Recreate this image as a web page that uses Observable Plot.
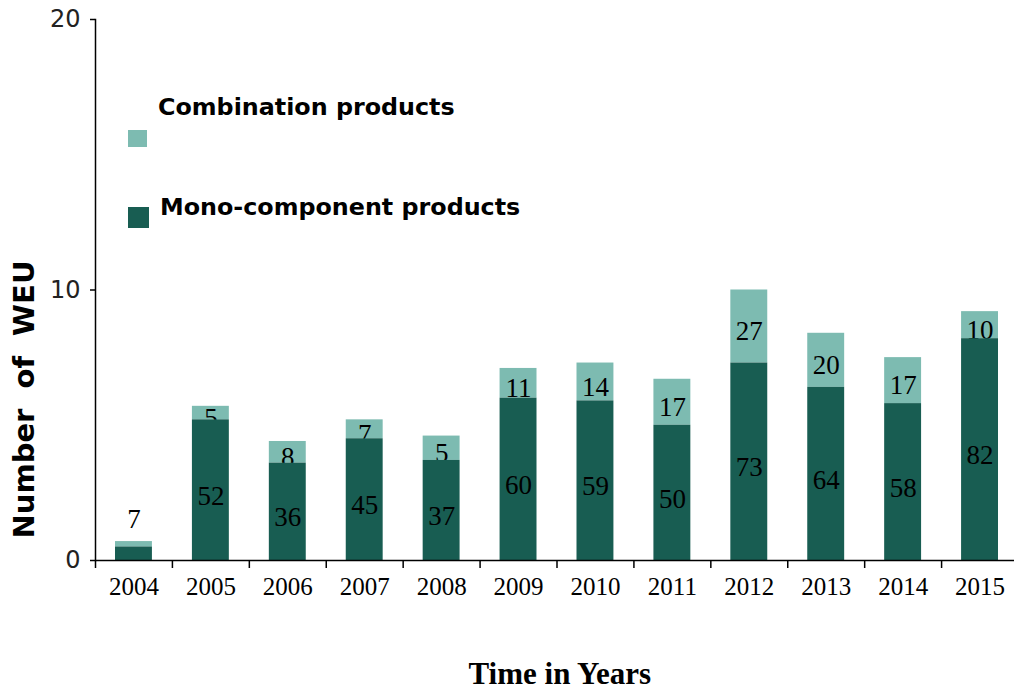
<!DOCTYPE html>
<html>
<head>
<meta charset="utf-8">
<script src="https://cdn.jsdelivr.net/npm/d3@7"></script>
<script src="https://cdn.jsdelivr.net/npm/@observablehq/plot@0.6"></script>
<style>
  body { margin: 0; background: #fff; }
  #wrap { position: relative; width: 1014px; height: 691px; overflow: hidden; }
  .legtext { position: absolute; font-family: "DejaVu Sans", sans-serif; font-weight: bold; font-size: 23.8px; color: #000; white-space: nowrap; line-height: 1; }
  .sw { position: absolute; }
  #ytitle { position: absolute; font-family: "DejaVu Sans", sans-serif; font-weight: bold; font-size: 29px; word-spacing: 10px; white-space: nowrap; line-height: 1; transform-origin: center center; }
  #xtitle { position: absolute; font-family: "Liberation Serif", "Times New Roman", serif; font-weight: bold; font-size: 31px; white-space: nowrap; line-height: 1; }
</style>
</head>
<body>
<div id="wrap"></div>
<script>
const years = ["2004","2005","2006","2007","2008","2009","2010","2011","2012","2013","2014","2015"];
// segment heights (in units of 1/10 of the axis)
const monoHeights  = [5, 52, 36, 45, 37, 60, 59, 50, 73, 64, 58, 82];
const comboHeights = [2, 5, 8, 7, 9, 11, 14, 17, 27, 20, 17, 10];
// printed labels
const monoLabels  = ["", "52", "36", "45", "37", "60", "59", "50", "73", "64", "58", "82"];
const comboLabels = ["7", "5", "8", "7", "5", "11", "14", "17", "27", "20", "17", "10"];
const yTicks = [0, 10, 20];
const seriesNames = ["Combination products", "Mono-component products"];
const colors = {combo: "#7dbbb1", mono: "#185d52"};

const unit = 10;
const mono = years.map((yr, i) => ({year: yr, y1: 0, y2: monoHeights[i] / unit, mid: monoHeights[i] / (2 * unit), label: monoLabels[i]}));
const combo = years.map((yr, i) => {
  const lo = monoHeights[i] / unit, hi = (monoHeights[i] + comboHeights[i]) / unit;
  const small = comboHeights[i] < 3;
  return {year: yr, y1: lo, y2: hi, mid: small ? hi + 1.0 : (lo + hi) / 2, label: comboLabels[i]};
});

const xRange = [95, 1018];
const step = (xRange[1] - xRange[0]) / years.length;
const serif = "'Liberation Serif', 'Times New Roman', serif";

const chart = Plot.plot({
  width: 1014,
  height: 691,
  marginLeft: 95,
  marginRight: 0,
  marginTop: 19,
  marginBottom: 131,
  x: {domain: years, range: xRange, paddingInner: 0.52, paddingOuter: 0.26, round: false, axis: null},
  y: {domain: [0, 20], axis: null},
  style: {fontFamily: serif, fontSize: "22px", color: "#000", background: "transparent", overflow: "visible"},
  marks: [
    Plot.barY(combo, {x: "year", y1: "y1", y2: "y2", fill: colors.combo}),
    Plot.text(combo, {x: "year", y: "mid", text: "label", dy: 5, fontSize: 27, fontFamily: serif, fill: "#000"}),
    Plot.barY(mono, {x: "year", y1: "y1", y2: "y2", fill: colors.mono}),
    Plot.text(mono, {x: "year", y: "mid", text: "label", dy: 6, fontSize: 27, fontFamily: serif, fill: "#000"}),
    Plot.ruleY([0], {stroke: "#000", strokeWidth: 1.5}),
    Plot.frame({anchor: "left", stroke: "#000", strokeWidth: 1.5}),
    Plot.axisY({ticks: yTicks, tickSize: 5, tickPadding: 10, fontSize: 24, fontFamily: "'DejaVu Sans', sans-serif", tickFormat: d => String(d), stroke: "#000", strokeWidth: 1.5, fill: "#222", label: null}),
    Plot.axisX({tickSize: 8, tickPadding: 0, tickFormat: () => "", dx: -step / 2, stroke: "#000", strokeWidth: 1.5, label: null}),
    Plot.axisX({tickSize: 0, tickPadding: 17, fontSize: 25, fontFamily: serif, fill: "#000", label: null})
  ]
});

const wrap = document.getElementById("wrap");
wrap.appendChild(chart);

// legend
function sw(x, y, w, h, c) {
  const d = document.createElement("div");
  d.className = "sw";
  Object.assign(d.style, {left: x + "px", top: y + "px", width: w + "px", height: h + "px", background: c});
  wrap.appendChild(d);
}
function txt(cls, s, x, y) {
  const d = document.createElement("div");
  d.className = cls;
  d.textContent = s;
  Object.assign(d.style, {left: x + "px", top: y + "px"});
  wrap.appendChild(d);
  return d;
}
sw(128, 130, 19, 17, colors.combo);
txt("legtext", seriesNames[0], 158, 96);
sw(128, 207, 21, 21, colors.mono);
txt("legtext", seriesNames[1], 160, 196);

// axis titles
const yt = txt("", "Number of WEU", 0, 0);
yt.id = "ytitle";
const w = yt.offsetWidth, h = yt.offsetHeight;
yt.style.left = (25 - w / 2) + "px";
yt.style.top = (399 - h / 2) + "px";
yt.style.transform = "rotate(-90deg)";

const xt = txt("", "Time in Years", 0, 0);
xt.id = "xtitle";
xt.style.left = (560 - xt.offsetWidth / 2) + "px";
xt.style.top = (673 - xt.offsetHeight / 2) + "px";
</script>
</body>
</html>
